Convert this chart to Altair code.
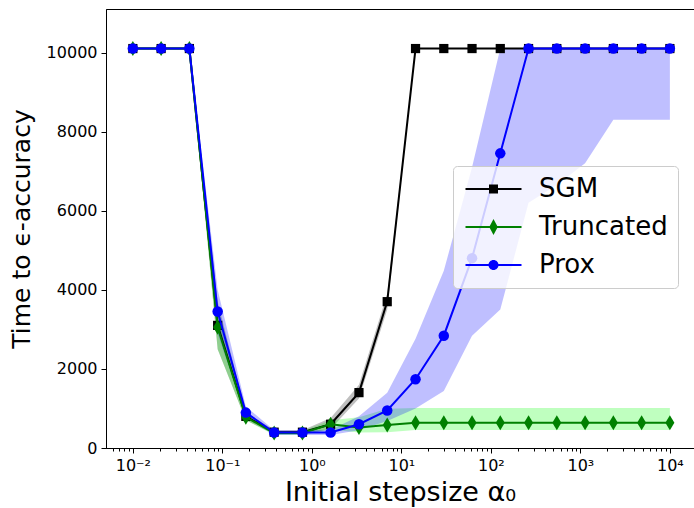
import altair as alt
import pandas as pd

# ---------------- data ----------------
x_vals = [0.01, 0.0207, 0.0428, 0.0886, 0.183, 0.379, 0.785, 1.62, 3.36, 6.95,
          14.4, 29.8, 61.6, 127.4, 263.7, 545.6, 1129, 2336, 4833, 10000]

methods = ["SGM", "Truncated", "Prox"]

sgm_mean = [10100, 10100, 10100, 3100, 800, 400, 400, 600, 1400, 3700,
            10100, 10100, 10100, 10100, 10100, 10100, 10100, 10100, 10100, 10100]
sgm_lo = [10100, 10100, 10100, 2500, 700, 350, 350, 480, 1250, 3500,
          10100, 10100, 10100, 10100, 10100, 10100, 10100, 10100, 10100, 10100]
sgm_hi = [10100, 10100, 10100, 3700, 900, 450, 450, 760, 1600, 3900,
          10100, 10100, 10100, 10100, 10100, 10100, 10100, 10100, 10100, 10100]

trunc_mean = [10100, 10100, 10100, 3050, 780, 380, 380, 600, 520, 580,
              640, 640, 640, 640, 640, 640, 640, 640, 640, 640]
trunc_lo = [10100, 10100, 10100, 2500, 700, 330, 330, 470, 390, 400,
            455, 455, 455, 455, 455, 455, 455, 455, 455, 455]
trunc_hi = [10100, 10100, 10100, 3600, 880, 430, 430, 700, 780, 990,
            1010, 1010, 1010, 1010, 1010, 1010, 1010, 1010, 1010, 1010]

prox_mean = [10100, 10100, 10100, 3450, 895, 390, 390, 390, 600, 950,
             1740, 2840, 4800, 7450, 10100, 10100, 10100, 10100, 10100, 10100]
prox_lo = [10100, 10100, 10100, 2900, 780, 330, 330, 330, 450, 680,
           1000, 1440, 2840, 3500, 6200, 6650, 7200, 8300, 8300, 8300]
prox_hi = [10100, 10100, 10100, 4000, 1050, 450, 450, 460, 800, 1400,
           2760, 4480, 7100, 10100, 10100, 10100, 10100, 10100, 10100, 10100]

major_ticks = [0.01, 0.1, 1, 10, 100, 1000, 10000]
major_labels = ["10⁻²", "10⁻¹", "10⁰", "10¹", "10²", "10³", "10⁴"]
minor_ticks = [k * 10.0 ** e for e in range(-3, 5) for k in range(2, 10)
               if 0.0051 < k * 10.0 ** e < 18000]
y_ticks = [0, 2000, 4000, 6000, 8000, 10000]

line_colors = ["black", "green", "blue"]
band_colors = ["black", "#00ff00", "blue"]

# ---------------- table ----------------
rows = []
series = {"SGM": (sgm_mean, sgm_lo, sgm_hi),
          "Truncated": (trunc_mean, trunc_lo, trunc_hi),
          "Prox": (prox_mean, prox_lo, prox_hi)}
for m in methods:
    mean, lo, hi = series[m]
    for i, x in enumerate(x_vals):
        rows.append({"x": x, "method": m, "y": mean[i], "lo": lo[i], "hi": hi[i]})
df = pd.DataFrame(rows)

# ---------------- scales / axes ----------------
x_scale = alt.Scale(type="log", domain=[0.005012, 18600], nice=False)
y_scale = alt.Scale(domain=[0, 11100], nice=False, zero=False)

label_expr = ""
for v, lab in zip(major_ticks, major_labels):
    label_expr += f"abs(datum.value - {v}) < {v * 0.01} ? '{lab}' : "
label_expr += "''"

x_major_axis = alt.Axis(values=major_ticks, labelExpr=label_expr, orient="bottom",
                        tickSize=5, labelFontSize=16, labelPadding=4,
                        title="Initial stepsize α₀", titleFontSize=27,
                        titleFontWeight="normal", titlePadding=6, grid=False)
x_minor_axis = alt.Axis(values=minor_ticks, labels=False, orient="bottom",
                        tickSize=3, title=None, domain=False, grid=False)
y_axis = alt.Axis(values=y_ticks, format="d", tickSize=5, labelFontSize=16,
                  labelPadding=4, title="Time to ϵ-accuracy", titleFontSize=25,
                  titleFontWeight="normal", titlePadding=12, grid=False)

base = alt.Chart(df)

shapes = {"SGM": ("square", 85), "Truncated": ("M0,-1L0.6,0L0,1L-0.6,0Z", 225),
          "Prox": ("circle", 110)}


def xenc(first):
    return alt.X("x:Q", scale=x_scale, axis=x_major_axis if first else None)


bands = []
lines = []
for j, (m, lc, bc) in enumerate(zip(methods, line_colors, band_colors)):
    sub = base.transform_filter(alt.datum.method == m)
    bands.append(sub.mark_area(color=bc, opacity=0.25).encode(
        x=xenc(j == 0),
        y=alt.Y("lo:Q", scale=y_scale, axis=y_axis),
        y2="hi:Q"))
    lines.append(sub.mark_line(color=lc, strokeWidth=2).encode(
        x=xenc(False),
        y=alt.Y("y:Q", scale=y_scale, axis=y_axis)))
    shp, sz = shapes[m]
    lines.append(sub.mark_point(shape=shp, size=sz, filled=True, fill=lc,
                                opacity=1, strokeWidth=0).encode(
        x=xenc(False),
        y=alt.Y("y:Q", scale=y_scale, axis=y_axis)))

minor_layer = base.mark_point(opacity=0).encode(
    x=alt.X("x:Q", scale=x_scale, axis=x_minor_axis),
    y=alt.Y("y:Q", scale=y_scale, axis=y_axis))

# legend symbols: line + marker drawn as one custom path
leg_line = "M-2.1,-0.2L9.1,-0.2L9.1,0.2L-2.1,0.2Z"
leg_paths = [
    leg_line + "M2.6,-0.9L4.4,-0.9L4.4,0.9L2.6,0.9Z",
    leg_line + "M3.5,-1.6L4.35,0L3.5,1.6L2.65,0Z",
    leg_line + "M4.5,0A1,1 0 1,1 2.5,0A1,1 0 1,1 4.5,0Z",
]
legend = alt.Legend(title=None, orient="none", legendX=347, legendY=157,
                    labelFontSize=26, labelFont="DejaVu Sans", labelColor="black",
                    symbolSize=100, symbolStrokeWidth=0, labelOffset=50,
                    rowPadding=12, padding=10, cornerRadius=4,
                    fillColor="rgba(255,255,255,0.8)", strokeColor="#cccccc")
legend_layer = base.transform_filter("false").mark_point(
    filled=True, opacity=1, size=100, strokeWidth=0).encode(
    color=alt.Color("method:N", scale=alt.Scale(domain=methods, range=line_colors),
                    legend=legend),
    shape=alt.Shape("method:N", scale=alt.Scale(domain=methods, range=leg_paths),
                    legend=legend))

chart = alt.layer(*bands, *lines, minor_layer, legend_layer).resolve_axis(
    x="independent").properties(
    width=588, height=439,
    padding={"left": 106, "top": 9, "right": 0, "bottom": 60},
    autosize=alt.AutoSizeParams(type="none"),
    background="white",
).configure_view(stroke="black", strokeWidth=1).configure_axis(
    domainColor="black", tickColor="black", labelColor="black", titleColor="black",
    labelFont="DejaVu Sans", titleFont="DejaVu Sans", domainWidth=1, tickWidth=1)

chart.save("out.html", embed_options={"renderer": "svg", "actions": False})
